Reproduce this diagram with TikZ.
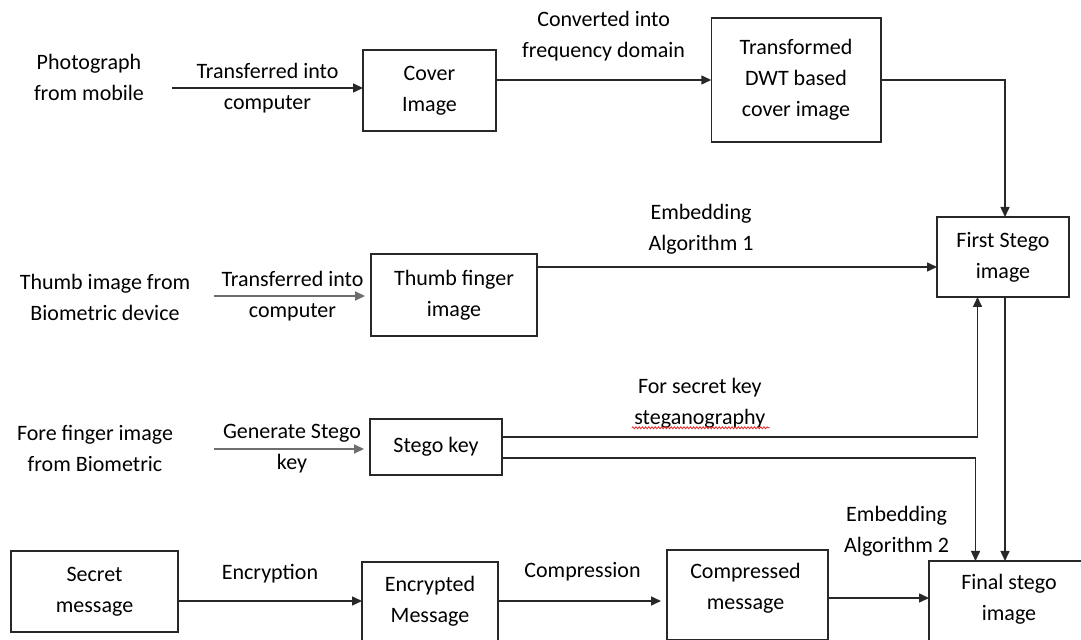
\documentclass[tikz,border=0pt]{standalone}
\usepackage{fontspec}
\setmainfont{Carlito}
\usepackage{tikz}
\usetikzlibrary{arrows.meta}
\usetikzlibrary{decorations.pathmorphing}
\usepackage{xcolor}
\definecolor{ColLine}{RGB}{40,40,40}
\definecolor{ColGrey}{RGB}{110,110,110}
\definecolor{ColSpell}{RGB}{230,40,40}
\tikzstyle{TextPlain}=[align=center,inner sep=3pt,font=\fontsize{11pt}{15.5pt}\selectfont]
\tikzstyle{BoxStep}=[TextPlain,draw=ColLine,line width=0.75pt,outer sep=0pt]
\tikzstyle{EdgeArrow}=[draw=ColLine,line width=0.75pt,-{Triangle[length=5pt,width=4.5pt]}]
\tikzstyle{EdgeGrey}=[EdgeArrow,draw=ColGrey,line width=1pt,shorten >=3pt]

\begin{document}
\begin{tikzpicture}[x=0.5pt,y=-0.5pt]
        \useasboundingbox(0,0)rectangle(1081,640);
        \clip(0,0)rectangle(1081,640);
        % sources and boxes
        \node[TextPlain](photo)at(89,77.5){Photograph\\from mobile};
        \node[BoxStep,minimum width=66.5pt,minimum height=40.5pt](cover)at(429.5,90.5){Cover\\Image};
        \node[BoxStep,minimum width=84.75pt,minimum height=62pt](dwt)at(796,80){Transformed\\DWT based\\cover image};
        \node[BoxStep,minimum width=66pt,minimum height=40pt](first)at(1003,257){First Stego\\image};
        \node[TextPlain](thumbsrc)at(105,297){Thumb image from\\Biometric device};
        \node[BoxStep,minimum width=83pt,minimum height=41pt](thumb)at(454,295){Thumb finger\\image};
        \node[TextPlain](foresrc)at(95,448){Fore finger image\\from Biometric};
        \node[BoxStep,minimum width=66pt,minimum height=28pt](key)at(436,447){Stego key};
        \node[BoxStep,minimum width=83.5pt,minimum height=40.5pt](secret)at(94.5,591.5){Secret\\message};
        \node[BoxStep,minimum width=68pt,minimum height=45pt](encr)at(430,607){};
        \node[BoxStep,minimum width=80.5pt,minimum height=45pt](compr)at(747.5,595){};
        \node[BoxStep,minimum width=80pt,minimum height=45pt](final)at(1009,606){};
        \node[TextPlain](encrtxt)at([yshift=-19.5pt]encr.north){Encrypted\\Message};
        \node[TextPlain](comprtxt)at([xshift=-1pt,yshift=-19.25pt]compr.north){Compressed\\message};
        \node[TextPlain](finaltxt)at([yshift=-19pt]final.north){Final stego\\image};
        % free ends and columns
        \coordinate(photoout)at(172,88);
        \coordinate(thumbout)at(214,296);
        \coordinate(foreout)at(214,449);
        \coordinate(embrow)at(0,267);
        \coordinate(rowD)at(0,601);
        \coordinate(rowE)at(0,598);
        \coordinate(colA)at(1005,0);
        \coordinate(colB)at(977.5,0);
        \coordinate(colC)at(975.5,0);
        % connectors
        \draw[EdgeArrow](photoout)--(photoout-|cover.west)node[midway,TextPlain]{Transferred into\\computer};
        \draw[EdgeArrow](cover.east|-dwt.west)--(dwt.west)node[midway,TextPlain,yshift=21.75pt]{Converted into\\frequency domain};
        \draw[EdgeArrow](dwt.east)-|(colA|-first.north);
        \draw[EdgeGrey](thumbout)--(thumbout-|thumb.west)node[midway,TextPlain]{Transferred into\\computer};
        \draw[EdgeArrow](thumb.east|-embrow)--(first.west|-embrow)node[pos=0.41,TextPlain,yshift=18.75pt]{Embedding\\Algorithm 1};
        \draw[EdgeGrey](foreout)--(foreout-|key.west)node[midway,TextPlain]{Generate Stego\\key};
        \draw[EdgeArrow]([yshift=5pt]key.east)-|(colB|-first.south)node[pos=0.208,TextPlain,yshift=17pt](steglab){For secret key\\steganography};
        \draw[EdgeArrow]([yshift=-5.5pt]key.east)-|(colC|-final.north);
        \draw[EdgeArrow](colA|-first.south)--(colA|-final.north);
        \draw[EdgeArrow](secret.east|-rowD)--(encr.west|-rowD)node[midway,TextPlain,yshift=13.5pt]{Encryption};
        \draw[EdgeArrow,shorten >=3pt](encr.east|-rowD)--(compr.west|-rowD)node[midway,TextPlain,yshift=14.5pt]{Compression};
        \draw[EdgeArrow](compr.east|-rowE)--(final.west|-rowE)node[pos=0.68,TextPlain,yshift=33.25pt]{Embedding\\Algorithm 2};
        % spelling mark
        \draw[ColSpell,line width=0.4pt,decorate,decoration={snake,amplitude=0.5pt,segment length=1.6pt}]([xshift=-34pt,yshift=3.5pt]steglab.south)--([xshift=35pt,yshift=3.5pt]steglab.south);
    \end{tikzpicture}
\end{document}
